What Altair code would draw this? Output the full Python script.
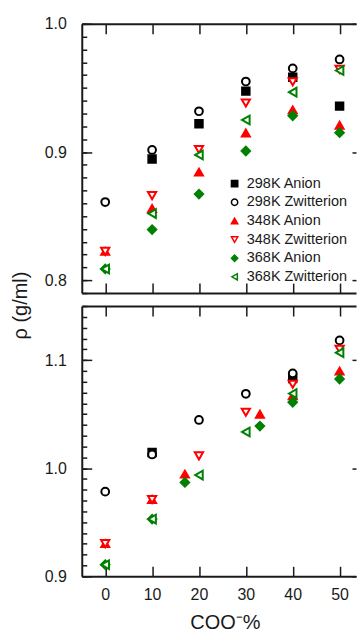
import altair as alt
import pandas as pd

SERIES = ["298K Anion", "298K Zwitterion", "348K Anion", "348K Zwitterion", "368K Anion", "368K Zwitterion"]
SHAPES = ["square", "circle", "triangle-up", "triangle-down", "diamond", "triangle-left"]
STROKES = ["#000000", "#000000", "#ff0000", "#ff0000", "#008000", "#008000"]
FILLS = ["#000000", "#ffffff", "#ff0000", "#ffffff", "#008000", "#ffffff"]
SIZES = [56, 76, 115, 110, 120, 115]

X_STD = [0, 10, 20, 30, 40, 50]
X_298_ANION_TOP = [10, 20, 30, 40, 50]
X_ANION_LOW = [0, 10, 17, 33, 40, 50]
X_298_ANION_LOW = [10, 40]

# upper panel densities (g/ml)
TOP_298_ANION = [0.8946, 0.9220, 0.9475, 0.9584, 0.9358]
TOP_298_ZWIT = [0.861, 0.9016, 0.9318, 0.9550, 0.9652, 0.9722]
TOP_348_ANION = [0.8225, 0.8560, 0.8843, 0.9148, 0.9329, 0.9209]
TOP_348_ZWIT = [0.8225, 0.8660, 0.9020, 0.9382, 0.9548, 0.9645]
TOP_368_ANION = [0.8088, 0.8395, 0.8672, 0.9008, 0.9283, 0.9151]
TOP_368_ZWIT = [0.8088, 0.8520, 0.8977, 0.9250, 0.9467, 0.9636]

# lower panel densities (g/ml)
BOT_298_ANION = [1.0145, 1.0830]
BOT_298_ZWIT = [0.9783, 1.0127, 1.0446, 1.0688, 1.0877, 1.1182]
BOT_348_ANION = [0.9302, 0.9710, 0.9945, 1.0499, 1.0670, 1.0898]
BOT_348_ZWIT = [0.9302, 0.9710, 1.0114, 1.0517, 1.0776, 1.1100]
BOT_368_ANION = [0.9107, 0.9529, 0.9868, 1.0390, 1.0610, 1.0825]
BOT_368_ZWIT = [0.9107, 0.9529, 0.9936, 1.0335, 1.0690, 1.1068]

TOP_SETS = [(X_298_ANION_TOP, TOP_298_ANION), (X_STD, TOP_298_ZWIT), (X_STD, TOP_348_ANION),
            (X_STD, TOP_348_ZWIT), (X_STD, TOP_368_ANION), (X_STD, TOP_368_ZWIT)]
BOT_SETS = [(X_298_ANION_LOW, BOT_298_ANION), (X_STD, BOT_298_ZWIT), (X_ANION_LOW, BOT_348_ANION),
            (X_STD, BOT_348_ZWIT), (X_ANION_LOW, BOT_368_ANION), (X_STD, BOT_368_ZWIT)]

TOP_MAJOR = [0.8, 0.9, 1.0]
BOT_MAJOR = [0.9, 1.0, 1.1]
TOP_MINOR = [round(0.79 + 0.01 * i, 2) for i in range(22)]
BOT_MINOR = [round(0.90 + 0.01 * i, 2) for i in range(26)]

FONT = "Liberation Sans"
INK = "#1a1a1a"


def frame(sets):
    rows = []
    k = 0
    for s, (xs, ys) in zip(SERIES, sets):
        for xv, yv in zip(xs, ys):
            rows.append({"series": s, "marker": s, "x": xv, "y": yv, "idx": k})
            k += 1
    return pd.DataFrame(rows)


def panel(sets, y_dom, h, majors, minors, is_top):
    data = frame(sets)
    xs = alt.Scale(domain=[-5, 53.5], nice=False, zero=False)
    ys = alt.Scale(domain=y_dom, nice=False, zero=False)
    base = alt.Chart(data)
    if is_top:
        leg = alt.Legend(title=None, orient="none", legendX=146, legendY=153,
                         symbolSize=40, symbolStrokeWidth=1.5, labelFontSize=14.5,
                         labelFont=FONT, labelColor=INK, rowPadding=3.7, labelOffset=5,
                         padding=0, symbolOffset=0)
    else:
        leg = None
    x_main = alt.Axis(orient="bottom", ticks=False, domain=True, grid=False,
                      labels=not is_top, values=X_STD, labelPadding=10, labelFlush=False,
                      title=None if is_top else "COO⁻%",
                      titleX=143.5, titleY=52, titleBaseline="alphabetic", titleAlign="center")
    y_main = alt.Axis(orient="left", ticks=False, domain=True, grid=False, labels=True,
                      values=majors, format=".1f", labelPadding=15.5, labelFlush=False,
                      labelOverlap=False,
                      title="ρ (g/ml)" if is_top else None,
                      titleX=-55, titleY=282, titleAngle=270, titleAlign="center",
                      titleBaseline="alphabetic")
    pts = base.mark_point(opacity=1, strokeWidth=2, filled=False).encode(
        x=alt.X("x:Q", scale=xs, axis=x_main),
        y=alt.Y("y:Q", scale=ys, axis=y_main),
        shape=alt.Shape("series:N", scale=alt.Scale(domain=SERIES, range=SHAPES), legend=leg),
        stroke=alt.Stroke("series:N", scale=alt.Scale(domain=SERIES, range=STROKES), legend=leg),
        fill=alt.Fill("series:N", scale=alt.Scale(domain=SERIES, range=FILLS), legend=leg),
        size=alt.Size("marker:N", scale=alt.Scale(range=SIZES), legend=None),
        order=alt.Order("idx:Q"),
    )

    def xl(**kw):
        return base.mark_point(opacity=0).encode(
            x=alt.X("x:Q", scale=xs, axis=alt.Axis(labels=False, grid=False, title=None, **kw)),
            y=alt.Y("y:Q", scale=ys, axis=None))

    def yl(**kw):
        return base.mark_point(opacity=0).encode(
            x=alt.X("x:Q", scale=xs, axis=None),
            y=alt.Y("y:Q", scale=ys, axis=alt.Axis(labels=False, grid=False, title=None, **kw)))

    layers = [
        pts,
        xl(orient="bottom", domain=False, ticks=True, tickSize=10, offset=-10, values=X_STD),
        xl(orient="top", domain=False, ticks=True, tickSize=10, offset=-10, values=X_STD),
        xl(orient="top", domain=True, ticks=False),
        yl(orient="left", domain=False, ticks=True, tickSize=10, offset=-10, values=majors),
        yl(orient="left", domain=False, ticks=True, tickSize=5, offset=-5, values=minors),
        yl(orient="right", domain=False, ticks=True, tickSize=4, offset=-4, values=majors),
    ]
    return alt.layer(*layers).resolve_axis(x="independent", y="independent").properties(
        width=275, height=h)


top = panel(TOP_SETS, [0.79, 1.0], 270, TOP_MAJOR, TOP_MINOR, True)
bottom = panel(BOT_SETS, [0.9, 1.15], 271, BOT_MAJOR, BOT_MINOR, False)

chart = alt.vconcat(top, bottom, spacing=13, bounds="flush").resolve_scale(
    shape="independent", stroke="independent", fill="independent", size="independent"
).properties(
    padding={"left": 11, "top": 15, "right": 0, "bottom": 0},
    background="white",
).configure_view(stroke=None).configure_axis(
    domainColor=INK, domainWidth=2, tickColor=INK, tickWidth=1.5,
    labelFont=FONT, labelFontSize=16, labelColor=INK,
    titleFont=FONT, titleFontSize=20, titleColor=INK, titleFontWeight="normal",
)

chart.save("out.html", embed_options={"renderer": "svg", "actions": False})
